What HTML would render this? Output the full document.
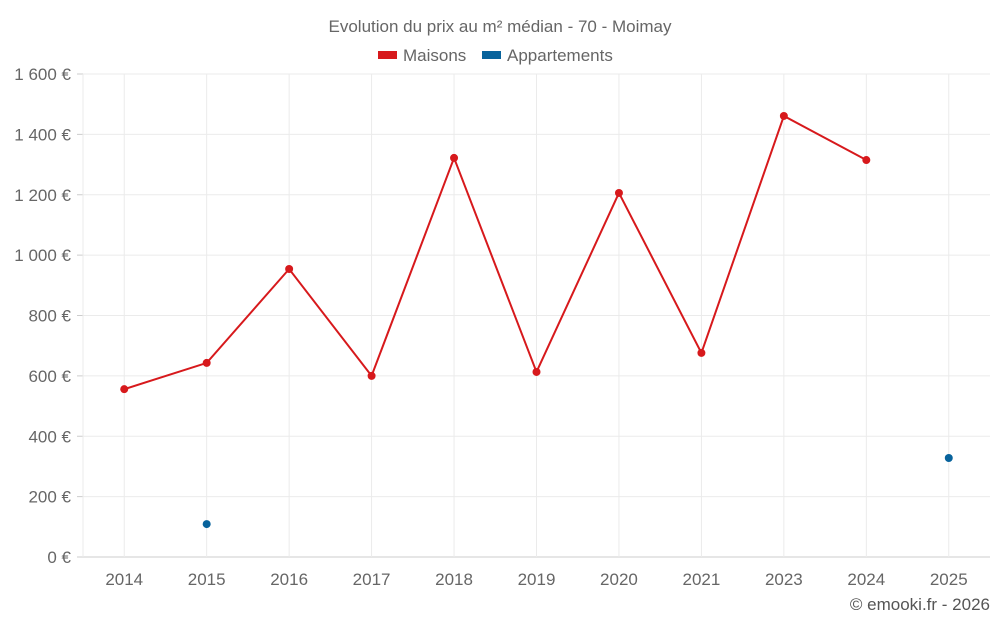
<!DOCTYPE html>
<html><head><meta charset="utf-8"><style>
html,body{margin:0;padding:0;background:#fff;}
svg{display:block;font-family:"Liberation Sans",sans-serif;}
</style></head><body>
<svg id="chart" width="1000" height="625">
<text x="500" y="32" text-anchor="middle" font-size="17" fill="#666">Evolution du prix au m² médian - 70 - Moimay</text>
<g>
<g><rect x="378" y="51" width="19" height="8" fill="#d7191c"/><text x="403" y="61" font-size="17" fill="#666">Maisons</text></g>
<g><rect x="482" y="51" width="19" height="8" fill="#08639c"/><text x="507" y="61" font-size="17" fill="#666">Appartements</text></g>
</g>
<g id="grid"></g><g id="axes"></g><g id="series"></g>
<text x="990" y="610" text-anchor="end" font-size="17" fill="#555">© emooki.fr - 2026</text>
</svg>
<script>
const categories=["2014","2015","2016","2017","2018","2019","2020","2021","2023","2024","2025"];
const maisons=[556,643,954,600,1322,613,1206,676,1461,1315,null];
const appartements=[null,109,null,null,null,null,null,null,null,null,328];
const yTicks=[0,200,400,600,800,1000,1200,1400,1600];
const yLabels=["0 €","200 €","400 €","600 €","800 €","1 000 €","1 200 €","1 400 €","1 600 €"];
const L=83,R=990,T=74,B=557,yMax=1600;
const ns="http://www.w3.org/2000/svg";
const bw=(R-L)/categories.length;
function x(i){return L+bw*(i+0.5);}
function y(v){return B-(v/yMax)*(B-T);}
function mk(tag,attrs,parent){const e=document.createElementNS(ns,tag);for(const k in attrs)e.setAttribute(k,attrs[k]);parent.appendChild(e);return e;}
const grid=document.getElementById('grid'),axes=document.getElementById('axes'),ser=document.getElementById('series');
yTicks.forEach((v,i)=>{
 const gl=mk('line',{x1:L,x2:R,y1:y(v),y2:y(v),stroke:v===0?'#ccc':'#ebebeb','stroke-width':1},grid);
 
 
 mk('line',{x1:L-6,x2:L,y1:y(v),y2:y(v),stroke:'#ccc'},grid);
 const t=mk('text',{x:L-12,y:y(v)+6,'text-anchor':'end','font-size':17,fill:'#666'},axes);
 t.textContent=yLabels[i];
 
 
});
mk('line',{x1:L,x2:L,y1:T,y2:B,stroke:'#ebebeb'},grid);
categories.forEach((c,i)=>{
 const gl=mk('line',{x1:x(i),x2:x(i),y1:T,y2:B,stroke:'#ebebeb'},grid);
 
 
 const t=mk('text',{x:x(i),y:585,'text-anchor':'middle','font-size':17,fill:'#666'},axes);
 t.textContent=c;
 
 
});
function draw(data,color,name){
 let d='',pen=false;
 data.forEach((v,i)=>{if(v==null){pen=false;return;}d+=(pen?'L':'M')+x(i)+' '+y(v)+' ';pen=true;});
 if(d){const p=mk('path',{d:d,fill:'none',stroke:color,'stroke-width':2},ser);
 
 }
 data.forEach((v,i)=>{if(v==null)return;
  const c=mk('circle',{cx:x(i),cy:y(v),r:4,fill:color},ser);
  
  });
}
draw(maisons,'#d7191c','maisons');
draw(appartements,'#08639c','appartements');
</script>
</body></html>
